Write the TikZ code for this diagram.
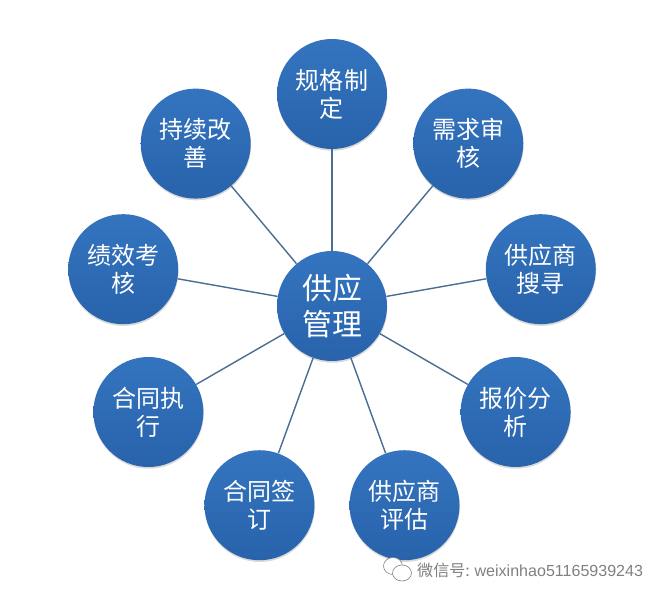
\documentclass[tikz,border=0pt]{standalone}
\usepackage{fontspec}
\setmainfont{Noto Sans CJK SC}
\newfontfamily\latinfont{Liberation Sans}
\usetikzlibrary{calc}
\usetikzlibrary{shadows}
\definecolor{ballTop}{HTML}{3474BF}
\definecolor{ballBottom}{HTML}{2863AB}
\definecolor{spoke}{HTML}{4A6D94}
\definecolor{wmark}{HTML}{808080}
\begin{document}
\begin{tikzpicture}[x=0.03cm, y=-0.03cm]
	\tikzstyle{ball}=[circle, top color=ballTop, bottom color=ballBottom, text=white,
	                        inner sep=0pt, minimum size=3.3cm, align=center, font=\fontsize{20.5}{24}\selectfont,
	                        drop shadow={shadow xshift=0.3pt, shadow yshift=-1.5pt, opacity=0.3}];
	\tikzstyle{hub}=[ball, font=\fontsize{25.5}{31.5}\selectfont];
	\tikzstyle{spokeline}=[draw=spoke, line width=1.2pt];
	\useasboundingbox (0,0) rectangle (670,600);
	\coordinate (c) at (332,306);
	\foreach \name/\ang/\txt in {
		guige/90/{规格制\\定},
		xuqiu/50/{需求审\\核},
		sousuo/10/{供应商\\搜寻},
		baojia/-30/{报价分\\析},
		pinggu/-70/{供应商\\评估},
		qianding/-110/{合同签\\订},
		zhixing/-150/{合同执\\行},
		kaohe/170/{绩效考\\核},
		gaishan/130/{持续改\\善}}
	{\node[ball] (\name) at ($(c)+(\ang:212 and -212)$) {\txt};}
	\node[hub] (center) at (c) {供应\\管理};
	\foreach \name in {guige, xuqiu, sousuo, baojia, pinggu, qianding, zhixing, kaohe, gaishan}
	{\draw[spokeline] (center) -- (\name);}
	% watermark
	\draw[draw=wmark, fill=white, line width=0.5pt] (393,566) ellipse (9.5 and 8.5);
	\draw[draw=wmark, fill=white, line width=0.5pt] (402,573) ellipse (9.5 and 8);
	\node[text=wmark, font=\fontsize{13.7}{15}\selectfont, anchor=west, inner sep=0pt] (wechat) at (417,570) {微信号: {\latinfont weixinhao51165939243}};
\end{tikzpicture}
\end{document}
